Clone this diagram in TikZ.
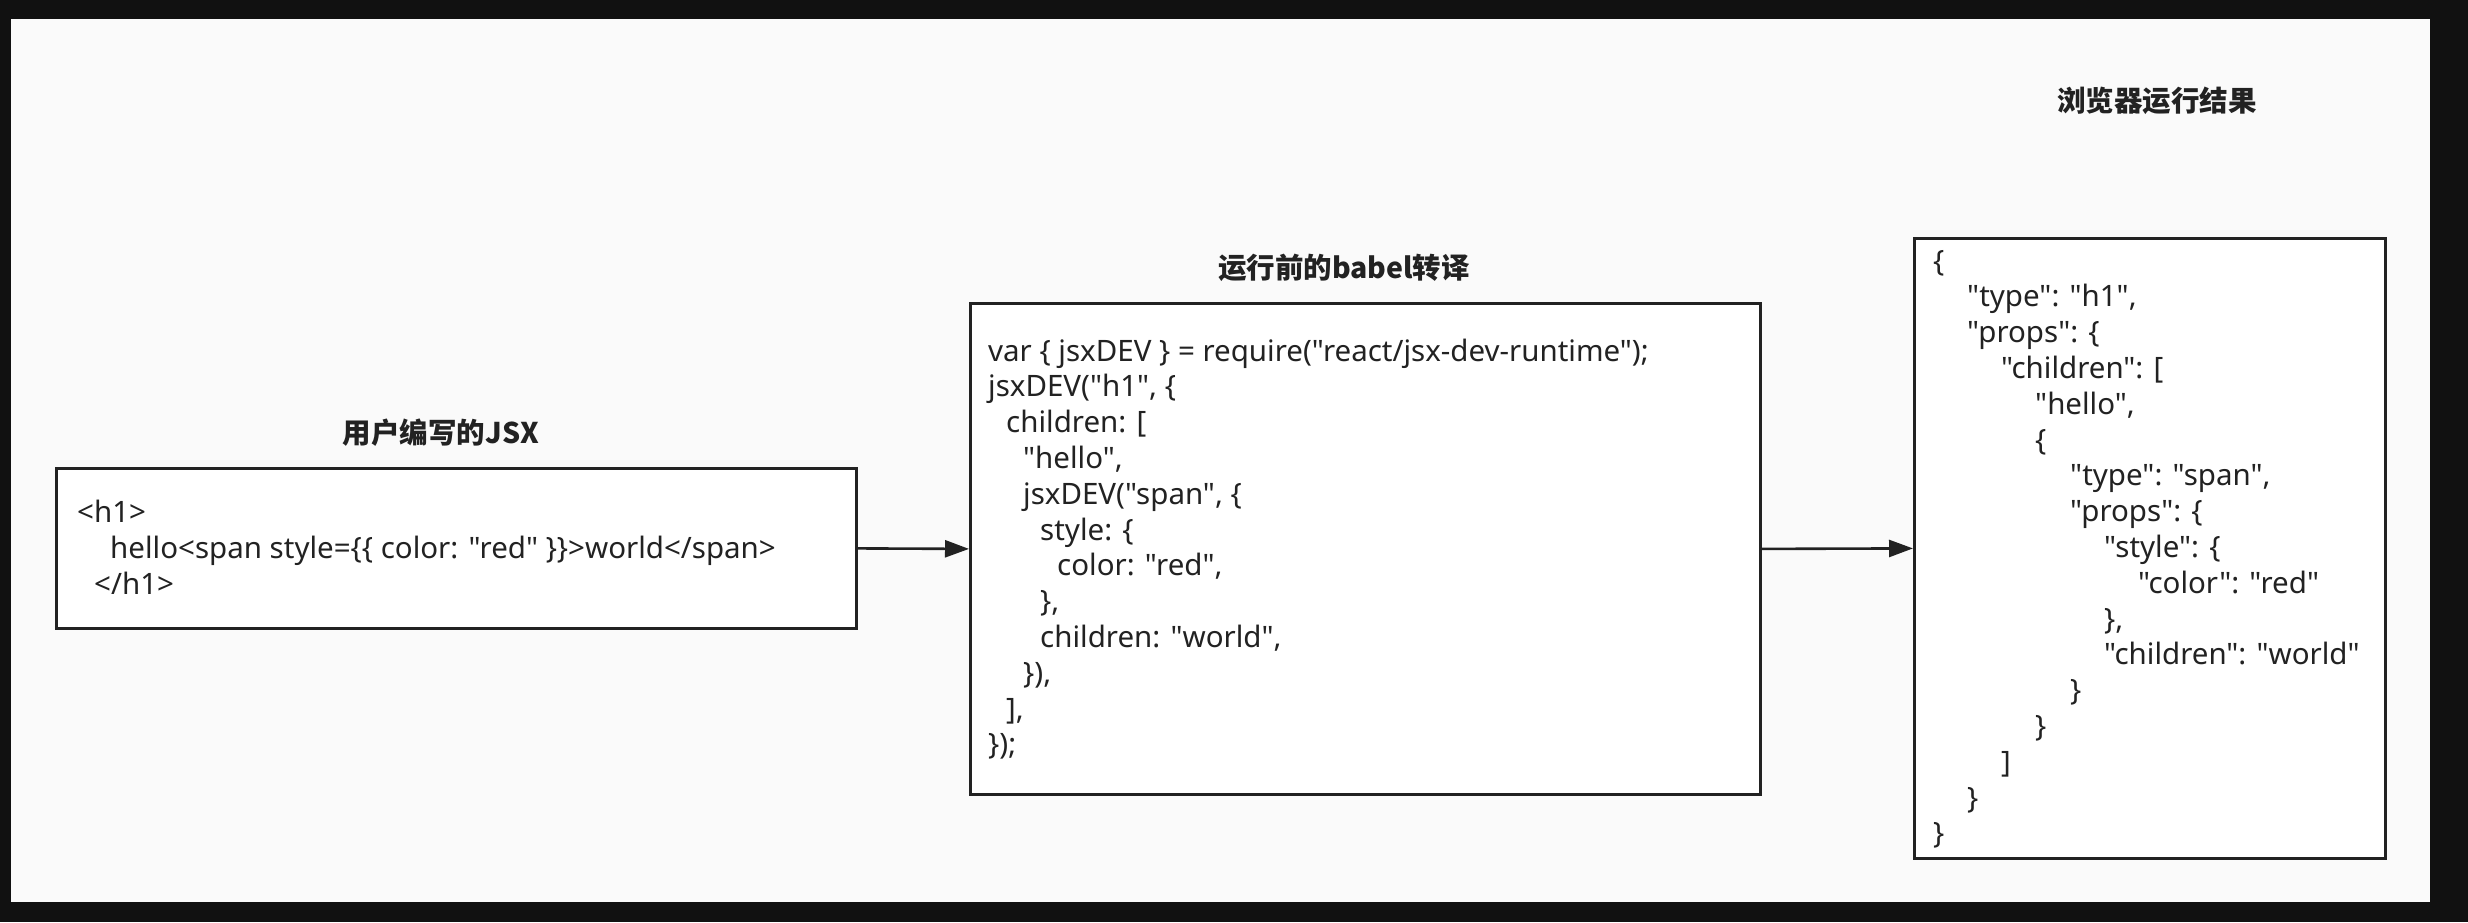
\documentclass[tikz,border=0pt]{standalone}
\usepackage{fontspec}
\setmainfont{Noto Sans}
\newfontfamily\codefont{Noto Sans}
\newfontfamily\cjkfont{Noto Sans CJK SC}
\usetikzlibrary{arrows.meta}
\definecolor{frameblack}{HTML}{111111}
\definecolor{pagebg}{HTML}{FAFAFA}
\definecolor{ink}{HTML}{222222}
\newcommand\codeln[4]{\node[codetext] (#1) at (#2,#3) {#4};}
\tikzset{
  x=1pt, y=-1pt,
  panel/.style={draw=ink, line width=2.8pt, fill=white, anchor=north west, inner sep=0pt},
  codetext/.style={anchor=base west, inner sep=0pt, text=ink, font=\codefont\fontsize{29.5}{36}\selectfont},
  titletext/.style={inner sep=0pt, text=ink, font=\cjkfont\bfseries\fontsize{28.5}{34}\selectfont},
  conn/.style={draw=ink, line width=2.6pt, -{Triangle[length=24pt,width=17pt]}}
}
\begin{document}
\begin{tikzpicture}
\useasboundingbox (0,0) rectangle (2468,922);
\fill[frameblack] (0,0) rectangle (2468,922);
\fill[pagebg] (11,19) rectangle (2430,902);

% panels
\node[panel, minimum width=800pt, minimum height=160pt] (jsx) at (55,467) {};
\node[panel, minimum width=790pt, minimum height=491pt] (babel) at (969,302) {};
\node[panel, minimum width=471pt, minimum height=620pt] (result) at (1913,237) {};

% titles
\node[titletext] (tjsx) at (441,433) {用户编写的JSX};
\node[titletext] (tbabel) at (1344,268) {运行前的babel转译};
\node[titletext] (tresult) at (2157,101) {浏览器运行结果};

% connectors
\draw[conn] (jsx.east) -- (babel.west);
\draw[conn] (babel.east) -- (result.west);

% JSX source
\codeln{ja}{77}{522}{<h1>}
\codeln{jb}{110}{558}{hello<span style=\{\{ color: "red" \}\}>world</span>}
\codeln{jc}{94}{594}{</h1>}

% babel output
\codeln{ba}{988}{361}{var \{ jsxDEV \} = require("react/jsx-dev-runtime");}
\codeln{bb}{988}{396.8}{jsxDEV("h1", \{}
\codeln{bc}{1006}{432.6}{children: [}
\codeln{bd}{1023}{468.4}{"hello",}
\codeln{be}{1023}{504.2}{jsxDEV("span", \{}
\codeln{bf}{1040}{540}{style: \{}
\codeln{bg}{1057}{575.8}{color: "red",}
\codeln{bh}{1040}{611.6}{\},}
\codeln{bi}{1040}{647.4}{children: "world",}
\codeln{bj}{1023}{683.2}{\}),}
\codeln{bk}{1006}{719}{],}
\codeln{bl}{988}{754.8}{\});}

% browser result
\codeln{ra}{1933}{271}{\{}
\codeln{rb}{1967}{306.8}{"type": "h1",}
\codeln{rc}{1967}{342.6}{"props": \{}
\codeln{rd}{2001}{378.4}{"children": [}
\codeln{re}{2035}{414.2}{"hello",}
\codeln{rf}{2035}{450}{\{}
\codeln{rg}{2070}{485.8}{"type": "span",}
\codeln{rh}{2070}{521.6}{"props": \{}
\codeln{ri}{2104}{557.4}{"style": \{}
\codeln{rj}{2138}{593.2}{"color": "red"}
\codeln{rk}{2104}{629}{\},}
\codeln{rl}{2104}{664.8}{"children": "world"}
\codeln{rm}{2070}{700.6}{\}}
\codeln{rn}{2035}{736.4}{\}}
\codeln{ro}{2001}{772.2}{]}
\codeln{rp}{1967}{808}{\}}
\codeln{rq}{1933}{843.8}{\}}
\end{tikzpicture}
\end{document}
